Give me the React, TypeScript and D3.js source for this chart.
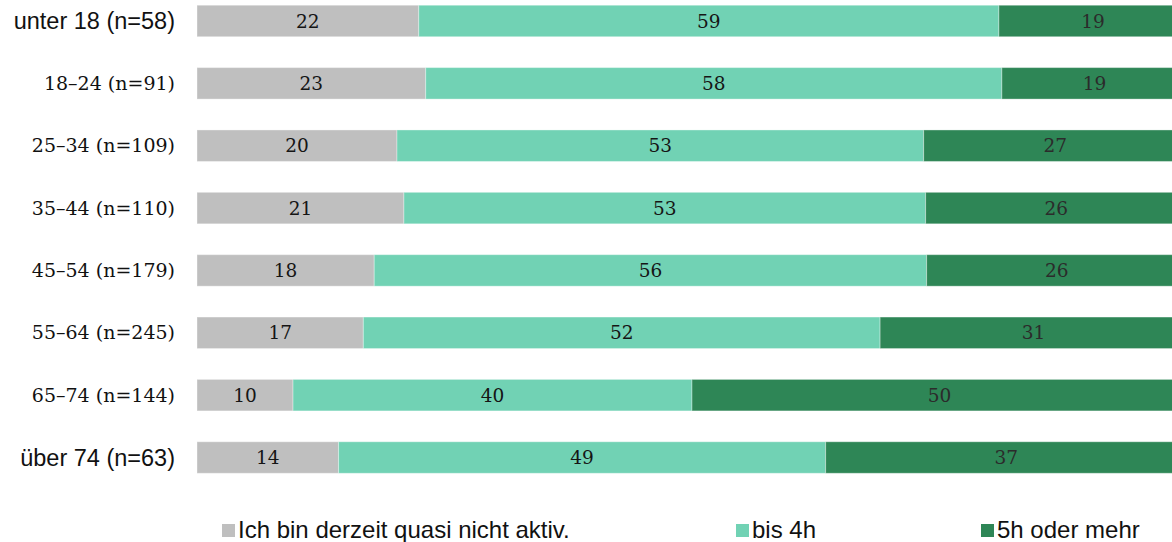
import React from "react";
import * as d3 from "d3";

const categories = [
  "unter 18 (n=58)",
  "18–24 (n=91)",
  "25–34 (n=109)",
  "35–44 (n=110)",
  "45–54 (n=179)",
  "55–64 (n=245)",
  "65–74 (n=144)",
  "über 74 (n=63)",
];
const seriesNames = ["Ich bin derzeit quasi nicht aktiv.", "bis 4h", "5h oder mehr"];
// Shares in percent (labels show rounded values)
const inactive = [22.4, 23.1, 20.2, 20.9, 17.9, 16.8, 9.7, 14.3];
const upTo4h = [58.6, 58.2, 53.2, 52.7, 55.8, 52.2, 40.3, 49.2];
const fiveOrMore = [19.0, 18.7, 26.6, 26.4, 26.3, 31.0, 50.0, 36.5];
const colors = ["#bfbfbf", "#71d2b4", "#2e8656"];

const W = 1172;
const H = 542;

export default function App() {
  const x = d3.scaleLinear().domain([0, 100]).range([197, 1187]);
  const y = d3
    .scaleBand<string>()
    .domain(categories)
    .range([-10.2, 488.7])
    .paddingInner(0.495)
    .paddingOuter(0.2475);

  const series = [inactive, upTo4h, fiveOrMore];
  const serifFont = "'DejaVu Serif', serif";
  const sansFont = "'Liberation Sans', Arial, sans-serif";

  const legendX = [222, 736, 981];

  return (
    <div style={{ position: "fixed", left: 0, top: 0, width: W, height: H, overflow: "hidden", background: "#fff" }}>
      <svg width={W} height={H} style={{ display: "block" }}>
        {categories.map((cat, i) => {
          const y0 = y(cat) as number;
          const bh = y.bandwidth();
          let acc = 0;
          const segs = series.map((s, k) => {
            const start = acc;
            acc += s[i];
            return { k, start, end: acc, v: s[i] };
          });
          const useSerif = /^[0-9]/.test(cat);
          return (
            <g key={cat}>
              <text
                x={175}
                y={y0 + bh / 2}
                dy="0.35em"
                textAnchor="end"
                fontFamily={useSerif ? serifFont : sansFont}
                fontSize={useSerif ? 19 : 23.5}
                fill="#111"
              >
                {cat}
              </text>
              {segs.map((sg) => (
                <rect
                  key={sg.k}
                  x={x(sg.start)}
                  y={y0}
                  width={x(sg.end) - x(sg.start)}
                  height={bh}
                  fill={colors[sg.k]}
                  stroke="rgba(255,255,255,0.35)"
                  strokeWidth={1}
                />
              ))}
              {segs.map((sg) => (
                <text
                  key={"t" + sg.k}
                  x={(x(sg.start) + x(sg.end)) / 2}
                  y={y0 + bh / 2}
                  dy="0.36em"
                  textAnchor="middle"
                  fontFamily={serifFont}
                  fontSize={18.5}
                  fill={sg.k === 2 ? "#2b2b2b" : "#151515"}
                >
                  {Math.round(sg.v)}
                </text>
              ))}
            </g>
          );
        })}
        {seriesNames.map((name, k) => (
          <g key={name}>
            <rect x={legendX[k]} y={524} width={13} height={13} fill={colors[k]} />
            <text x={legendX[k] + 16} y={538} fontFamily={sansFont} fontSize={24} fill="#111">
              {name}
            </text>
          </g>
        ))}
      </svg>
    </div>
  );
}
